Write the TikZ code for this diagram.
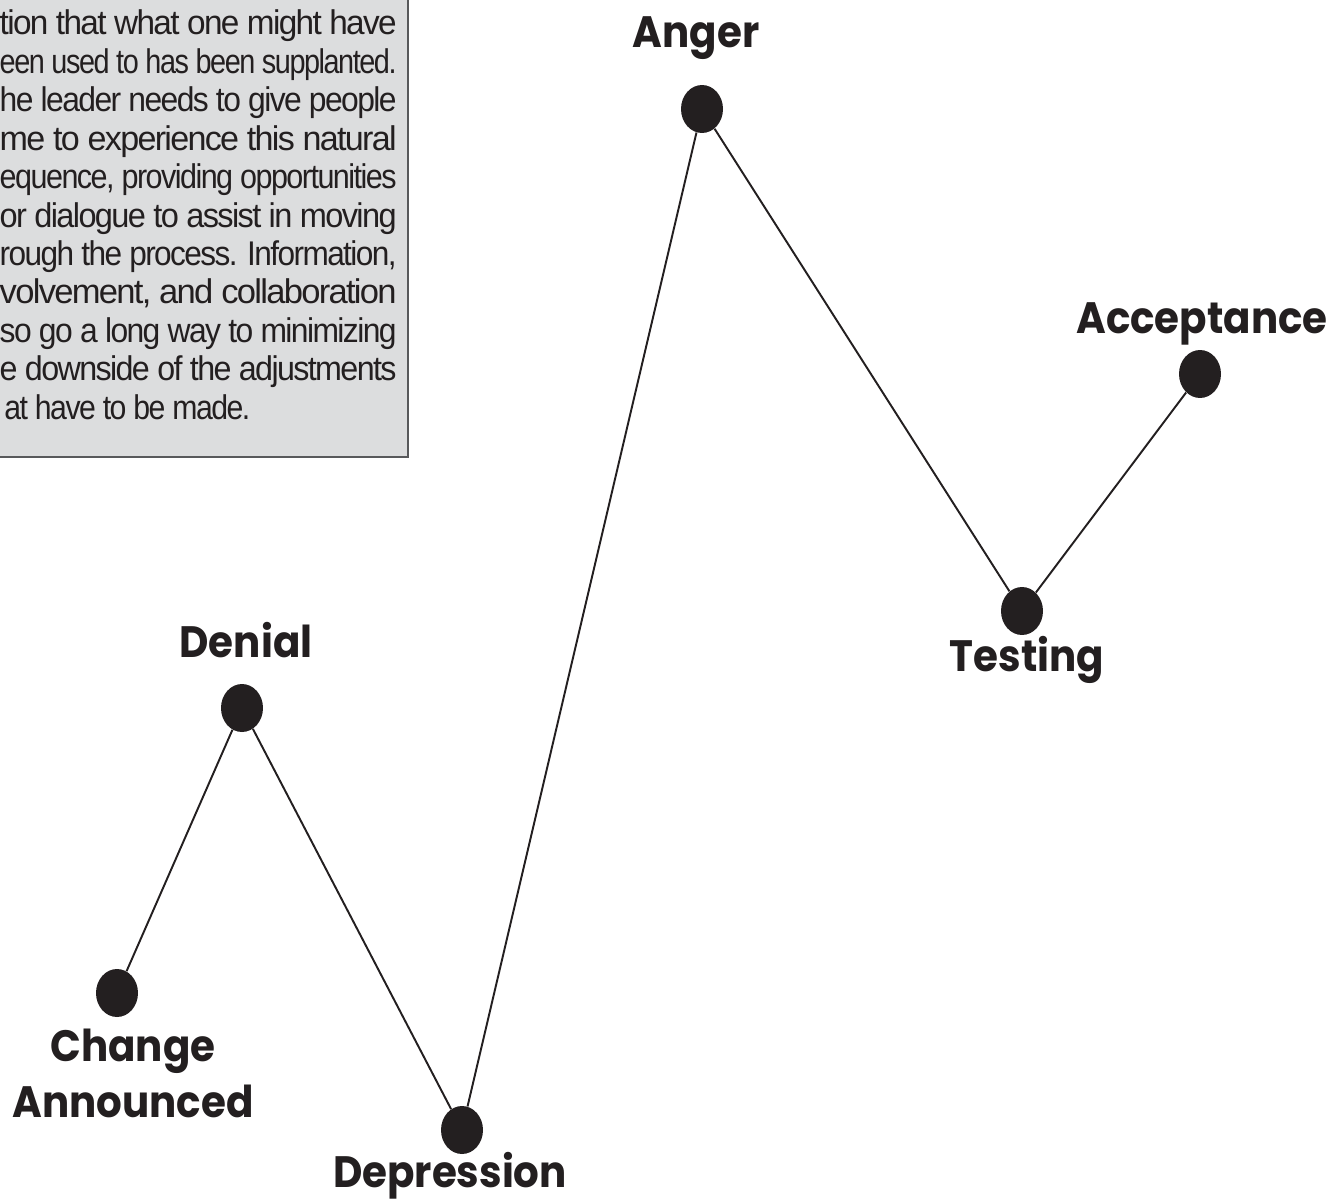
\documentclass[tikz,border=0pt]{standalone}
\usepackage{fontspec}
\setmainfont{Liberation Sans}[LetterSpace=-5]
\newfontfamily\stagefont{Poppins}[FakeStretch=0.92]
\usepackage{graphicx}
\usetikzlibrary{shapes.geometric}
\definecolor{ink}{HTML}{231F20}
\definecolor{panel}{HTML}{DCDDDE}
\definecolor{panelrule}{HTML}{58595B}

\begin{document}
\begin{tikzpicture}[x=0.02cm,y=-0.02cm,
    dot/.style={ellipse,fill=ink,minimum width=0.84cm,minimum height=0.96cm,inner sep=0pt},
    stage/.style={font=\stagefont\bfseries\fontsize{25}{31.8}\selectfont,text=ink,anchor=base,inner sep=0pt,align=center},
    boxline/.style={font=\fontsize{19.5}{23}\selectfont,text=ink,inner sep=0pt}]
    \useasboundingbox (0,0) rectangle (1336,1203);
    % text panel, cut off at the top and left
    \fill[panel,draw=panelrule,line width=0.8pt] (-20,-20) rectangle (408,457);
    \foreach \t [count=\i] in {{tion that what one might have},{een used to has been supplanted.},
        {he leader needs to give people},{me to experience this natural},
        {equence, providing opportunities},{or dialogue to assist in moving},
        {rough the process. Information,},{volvement, and collaboration},
        {so go a long way to minimizing},{e downside of the adjustments}}
      \node[boxline,anchor=base east] (line-\i) at (397,{35+(\i-1)*38.4}) {\resizebox{7.94cm}{\height}{\t}};
    \node[boxline,anchor=base west] (line-11) at (4,419) {\resizebox{4.92cm}{\height}{at have to be made.}};
    % stages
    \node[dot] (announced) at (117,993) {};
    \node[dot] (denial) at (242,708) {};
    \node[dot] (depression) at (462,1130) {};
    \node[dot] (anger) at (702,109) {};
    \node[dot] (testing) at (1022,611) {};
    \node[dot] (acceptance) at (1200,374) {};
    \draw[ink,line width=1.1pt] (announced) -- (denial) -- (depression) -- (anger) -- (testing) -- (acceptance);
    \node[stage] (announced-text) at (133,1117) {Change\\Announced};
    \node[stage] (denial-text) at (246,657) {Denial};
    \node[stage] (depression-text) at (450,1187) {Depression};
    \node[stage] (anger-text) at (696,48) {Anger};
    \node[stage] (testing-text) at (1027,671) {Testing};
    \node[stage] (acceptance-text) at (1202,333) {Acceptance};
\end{tikzpicture}
\end{document}
